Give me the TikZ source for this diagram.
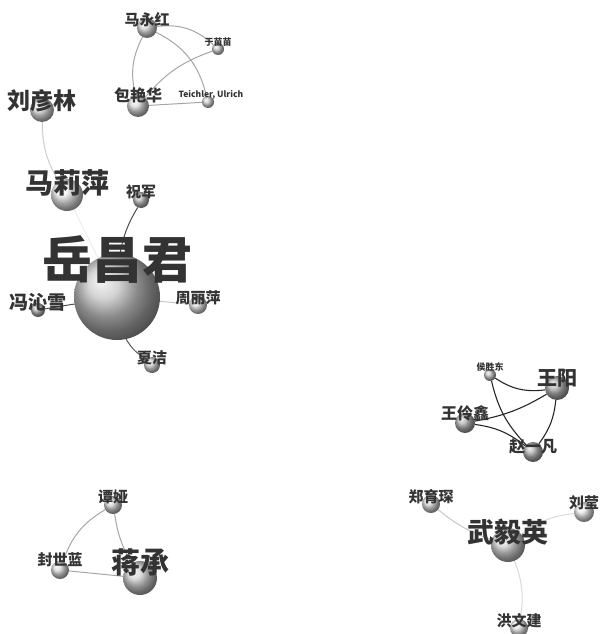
\documentclass[tikz,border=0pt]{standalone}
\usepackage{fontspec}
\usepackage{tikz}
\usetikzlibrary{backgrounds,calc}
\newfontfamily\cjk{Noto Sans CJK SC}
\tikzstyle{ballStyle}=[shape = circle, inner sep = 0pt, shading = ball]
\tikzstyle{nameStyle}=[inner sep = 0pt, text = black!80]
\newcommand{\scholar}[8]{%
\node[ballStyle, minimum size = #4pt, ball color = #5] (#1) at (#2,#3) {};
\node[nameStyle, font = \cjk\bfseries\fontsize{#7}{#7}\selectfont] (#1-name) at ($(#1)+(0,#8)$) {#6};}

\begin{document}
\begin{tikzpicture}[x = 1pt, y = -1pt]
\tikzstyle{EdgeStyle}=[line width = 1pt, draw = gray!70]
\tikzstyle{darkEdge}=[line width = 1.1pt, draw = black!85]
\tikzstyle{softEdge}=[line width = 1pt, draw = gray!30]
\useasboundingbox (0,0) rectangle (601,634);
\scholar{mayh}{147}{28}{20}{gray!30}{马永红}{15}{-8}
\scholar{yumm}{218}{49}{12}{gray!40}{于苗苗}{9}{-7}
\scholar{baoyh}{138}{106}{22}{gray!30}{包艳华}{16}{-11}
\scholar{teich}{208}{102}{12}{gray!35}{}{9}{-7}
\node[nameStyle, font = \cjk\bfseries\fontsize{8.5}{8.5}\selectfont] (teich-name) at (211,95) {Teichler, Ulrich};
\scholar{liuyl}{42}{110}{24}{gray!25}{刘彦林}{23}{-9}
\scholar{malp}{67}{195}{32}{gray!12}{马莉萍}{28}{-12}
\scholar{zhuj}{141}{200}{16}{gray!55}{祝军}{15}{-8}
\scholar{yuecj}{117}{297}{86}{gray!45}{岳昌君}{50}{-38}
\scholar{fengqx}{38}{310}{14}{gray!60}{冯沁雪}{19}{-8}
\scholar{zhoulp}{198}{305}{18}{gray!20}{周丽萍}{15}{-7}
\scholar{xiaj}{152}{365}{16}{gray!35}{夏洁}{15}{-7}
\scholar{housd}{490}{375}{12}{gray!50}{侯胜东}{9}{-8}
\scholar{wangy}{557}{388}{24}{gray!60}{王阳}{20}{-10}
\scholar{wanglx}{465}{423}{20}{gray!60}{王伶鑫}{16}{-10}
\scholar{zhaoyf}{533}{452}{20}{gray!60}{赵一凡}{16}{-5}
\scholar{zhengyc}{431}{504}{18}{gray!30}{郑育琛}{15}{-7}
\scholar{wuyy}{508}{545}{34}{gray!30}{武毅英}{27}{-13}
\scholar{liuy}{584}{512}{20}{gray!15}{刘莹}{15}{-9}
\scholar{hongwj}{519}{628}{18}{gray!20}{洪文建}{15}{-7}
\scholar{tany}{113}{505}{18}{gray!35}{谭娅}{15}{-8}
\scholar{fengsl}{60}{570}{18}{gray!30}{封世蓝}{15}{-10}
\scholar{jiangc}{140}{578}{34}{gray!35}{蒋承}{29}{-16}
\begin{pgfonlayer}{background}
\draw[EdgeStyle] (mayh) to[bend left = 25] (yumm);
\draw[EdgeStyle] (mayh) to[bend right = 20] (baoyh);
\draw[EdgeStyle] (mayh) to[bend left = 25] (teich);
\draw[EdgeStyle] (baoyh) to[bend left = 15] (yumm);
\draw[EdgeStyle] (baoyh) -- (teich);
\draw[softEdge, draw = gray!40] (liuyl) to[bend right = 15] (malp);
\draw[softEdge, draw = gray!15] (yuecj) -- (malp);
\draw[EdgeStyle, draw = black!70] (yuecj) to[bend left = 10] (zhuj);
\draw[EdgeStyle, draw = black!70] (yuecj) -- (fengqx);
\draw[EdgeStyle, draw = gray!45] (yuecj) -- (zhoulp);
\draw[EdgeStyle, draw = black!65] (yuecj) to[bend right = 15] (xiaj);
\draw[darkEdge] (housd) to[bend right = 20] (wangy);
\draw[darkEdge] (housd) to[bend right = 15] (zhaoyf);
\draw[darkEdge] (wanglx) to[bend right = 10] (wangy);
\draw[darkEdge] (wanglx) to[bend left = 15] (zhaoyf);
\draw[darkEdge] (wangy) to[bend left = 15] (zhaoyf);
\draw[EdgeStyle] (tany) to[bend right = 20] (fengsl);
\draw[EdgeStyle] (tany) to[bend right = 10] (jiangc);
\draw[EdgeStyle] (fengsl) -- (jiangc);
\draw[softEdge, draw = gray!45] (zhengyc) to[bend right = 10] (wuyy);
\draw[softEdge] (wuyy) to[bend left = 15] (liuy);
\draw[softEdge] (wuyy) to[bend left = 15] (hongwj);
\end{pgfonlayer}
\end{tikzpicture}
\end{document}
